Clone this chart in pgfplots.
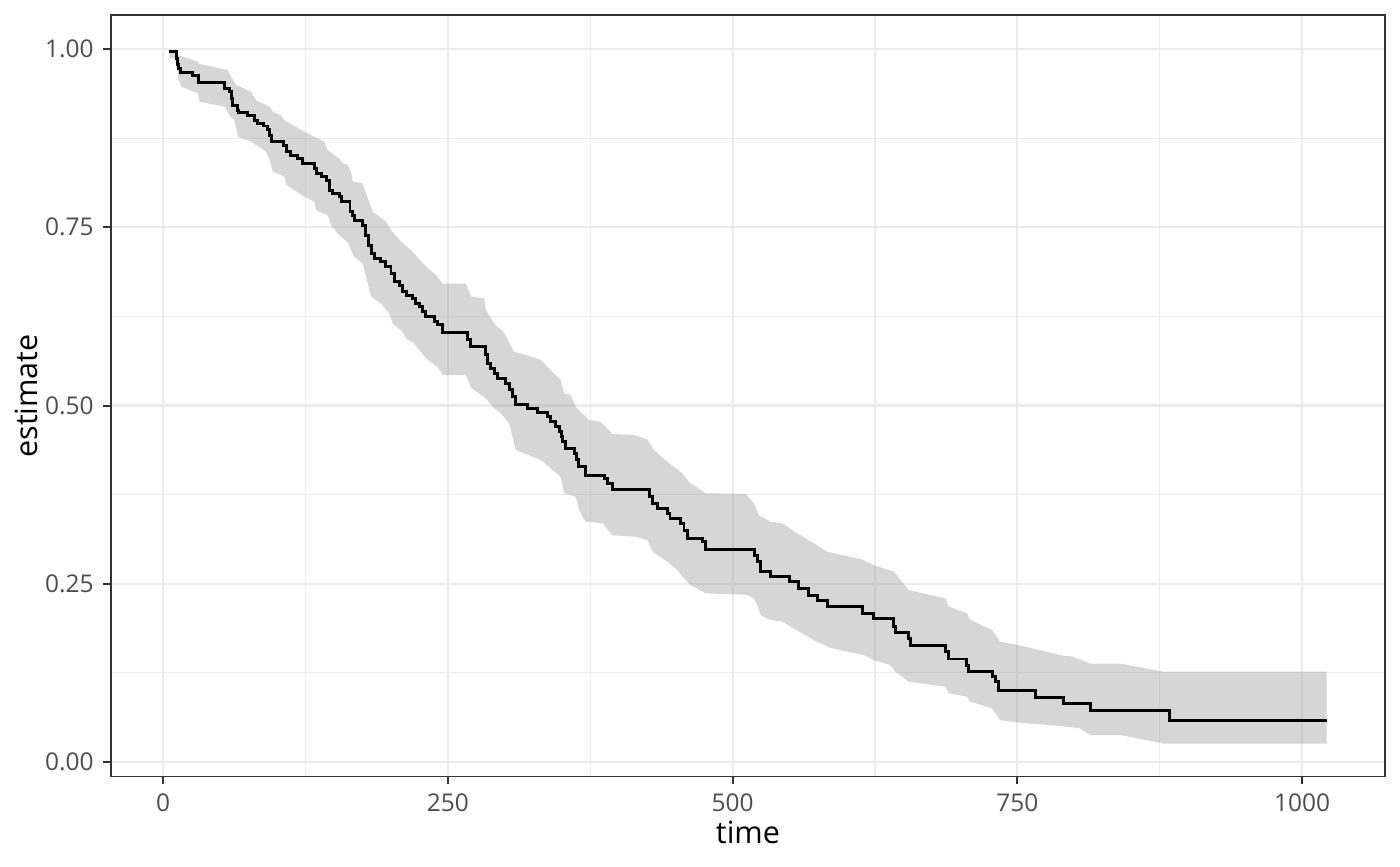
\documentclass[border=0pt]{standalone}
\usepackage{fontspec}
\setmainfont{Open Sans}
\usepackage{pgfplots}
\pgfplotsset{compat=1.18}
\usepackage{pgfplotstable}
\definecolor{ribbon}{RGB}{153,153,153}
\definecolor{gridc}{RGB}{235,235,235}
\definecolor{g20}{RGB}{51,51,51}
\definecolor{g30}{RGB}{77,77,77}

\pgfplotstableread{
t est
5.5 0.996
11.5 0.987
12.5 0.978
13.5 0.972
15.5 0.967
26.0 0.9635
31.3 0.953
54 0.944
58 0.940
59.6 0.931
61 0.921
64.9 0.914
66 0.911
74.3 0.907
80 0.900
82.5 0.896
88.3 0.892
91.2 0.887
93.3 0.879
95.3 0.870
105.8 0.864
107.9 0.856
111.7 0.851
118.1 0.847
122.5 0.840
132.7 0.833
134.2 0.826
138.6 0.821
143 0.816
145.9 0.802
148.8 0.798
154.7 0.793
156.5 0.786
164 0.772
166 0.767
167.8 0.760
175.1 0.753
178 0.739
180 0.725
182.5 0.713
185.4 0.706
191.2 0.702
195.6 0.695
200 0.685
202.9 0.674
207.3 0.669
210.2 0.660
213.2 0.654
219 0.650
221.9 0.643
224.8 0.639
227.8 0.632
230.7 0.625
238 0.618
240.9 0.613
245.3 0.603
267.3 0.592
270.2 0.583
283.3 0.571
284.5 0.559
287.7 0.552
290.6 0.545
293.6 0.538
300.9 0.531
303.8 0.522
306.7 0.512
309.6 0.501
319.9 0.496
328.7 0.490
337.4 0.484
340.4 0.477
344.7 0.470
347.7 0.463
349.7 0.456
351 0.449
353 0.440
360.8 0.433
363.2 0.424
364.5 0.414
371 0.4025
387.1 0.398
390.1 0.391
394.5 0.3825
426.6 0.372
429.6 0.363
433.9 0.356
442.7 0.349
445 0.342
454.4 0.335
457.3 0.325
460.2 0.3137
473.4 0.309
476.3 0.298
519.3 0.290
521.6 0.281
524.6 0.267
533.3 0.260
550.3 0.253
558.2 0.2435
567 0.234
574.3 0.227
583.1 0.218
613.7 0.2085
624 0.2015
641.5 0.190
642.9 0.182
654.7 0.1735
656 0.163
686.8 0.1547
689.8 0.1445
705.3 0.136
707.3 0.1267
727.8 0.1196
730.7 0.1126
733.6 0.101
765.8 0.0907
790.6 0.0823
814 0.0729
883.6 0.0589
1022 0.0589
}\est

% ribbon outline: upper bound forward, lower bound backward
\pgfplotstableread{
t y
5.5 0.9986
11.4 0.9986
12.9 0.9916
17.3 0.989
30.4 0.982
31.9 0.979
56.7 0.9705
59.6 0.961
64 0.9495
77.2 0.940
81.6 0.928
93.3 0.919
96.2 0.912
103.5 0.907
106.4 0.900
124 0.884
132.7 0.877
141.5 0.870
144.5 0.858
150.3 0.851
154.7 0.846
157.6 0.840
162 0.837
165 0.828
166.4 0.814
175.1 0.8116
178 0.7976
184 0.772
195.6 0.758
200 0.746
208.8 0.730
217.5 0.718
230.7 0.695
239.5 0.683
245.3 0.671
265.8 0.671
270.2 0.653
281.9 0.650
283.3 0.634
290.6 0.615
299 0.603
308 0.5755
320 0.570
331.6 0.564
341.8 0.547
349 0.536
352 0.517
357.9 0.5147
362.3 0.498
374 0.4797
384.2 0.477
394.5 0.460
413.5 0.4586
425.2 0.4526
431 0.4376
442.7 0.421
455.9 0.405
462 0.392
476.3 0.3769
511.4 0.376
518.7 0.363
523.1 0.346
533.3 0.337
543.6 0.3347
556.7 0.3207
571.3 0.3067
583.1 0.295
613.7 0.284
624 0.276
641.5 0.267
654.7 0.241
686.8 0.2295
689.8 0.218
705.9 0.2085
708 0.200
727.8 0.185
735 0.1687
751.2 0.164
790.6 0.149
798 0.148
814 0.138
840.4 0.138
878.3 0.1267
1021.6 0.1267
1021.6 0.026
878.3 0.026
840.4 0.0379
814 0.0379
805 0.0473
790.6 0.050
750 0.0555
735 0.0589
727.8 0.0753
708 0.085
705.9 0.0916
689.8 0.0963
686.8 0.1056
654.7 0.1126
643 0.1267
638.6 0.136
624 0.143
615.2 0.150
594.7 0.157
584.5 0.161
571.3 0.171
558.2 0.183
543.6 0.197
533.3 0.199
524.6 0.206
521.6 0.220
518.7 0.2295
512.9 0.2345
476.3 0.2366
463.2 0.248
457.3 0.2576
451.5 0.269
442.7 0.281
429.6 0.295
425.2 0.311
414.9 0.316
394.5 0.318
385.7 0.335
371 0.337
365.2 0.353
362.3 0.372
352 0.377
349 0.400
341.8 0.4095
331.6 0.4236
309.6 0.4376
303.8 0.475
296.5 0.489
290 0.497
283.3 0.510
270.2 0.525
265.8 0.5428
245.3 0.5428
240.9 0.554
230.7 0.566
220.5 0.587
213.2 0.594
210.2 0.6035
201.5 0.615
198.5 0.629
191.2 0.643
182.5 0.6526
175.1 0.6994
167.8 0.708
162 0.7286
153.2 0.741
147.4 0.753
144.5 0.767
134.2 0.774
132.7 0.786
124 0.793
115.2 0.802
107.9 0.810
106.4 0.821
96.2 0.828
93.3 0.8443
90.4 0.856
77.2 0.870
65.5 0.877
62.6 0.900
58.2 0.907
53.8 0.919
31.9 0.926
30.4 0.938
15.8 0.947
13 0.960
11.4 0.987
5.5 0.987
}\band

\begin{document}
\begin{tikzpicture}
\begin{axis}[
  scale only axis,
  width=458.6bp, height=274.2bp,
  xmin=-45.85, xmax=1072.85,
  ymin=-0.0206, ymax=1.0477,
  xtick={0,250,500,750,1000},
  minor xtick={125,375,625,875},
  ytick={0,0.25,0.5,0.75,1},
  minor ytick={0.125,0.375,0.625,0.875},
  grid=both,
  major grid style={draw=gridc, line width=0.75bp},
  minor grid style={draw=gridc, line width=0.4bp},
  axis line style={draw=g20, line width=0.5bp},
  tick align=outside,
  major tick length=2.75pt,
  minor tick length=0pt,
  major tick style={draw=g20, line width=0.72bp},
  tick pos=left,
  /pgf/number format/assume math mode=true,
  xticklabel={\pgfmathprintnumber[1000 sep={}]{\tick}},
  yticklabel={\pgfmathprintnumber[fixed,fixed zerofill,precision=2]{\tick}},
  ticklabel style={font=\fontsize{8.8bp}{10bp}\selectfont, text=g30},
  xlabel={time}, ylabel={estimate},
  label style={font=\fontsize{11bp}{13bp}\selectfont, text=black},
  xlabel style={at={(axis description cs:0.5,0)}, anchor=base, yshift=-23.9bp},
  ylabel style={at={(axis description cs:0,0.5)}, anchor=base, rotate=0, xshift=0pt, yshift=26.6bp},
]
\addplot[draw=none, fill=ribbon, fill opacity=0.4] table[x=t,y=y] {\band};
\addplot[const plot, black, line width=1.07bp] table[x=t,y=est] {\est};
\end{axis}
\pgfresetboundingbox
\path (current axis.south west) ++(-39.96bp,-32.15bp) coordinate (bl);
\path (current axis.north east) ++(5.4bp,5.4bp) coordinate (tr);
\path[use as bounding box] (bl) rectangle (tr);
\end{tikzpicture}
\end{document}
